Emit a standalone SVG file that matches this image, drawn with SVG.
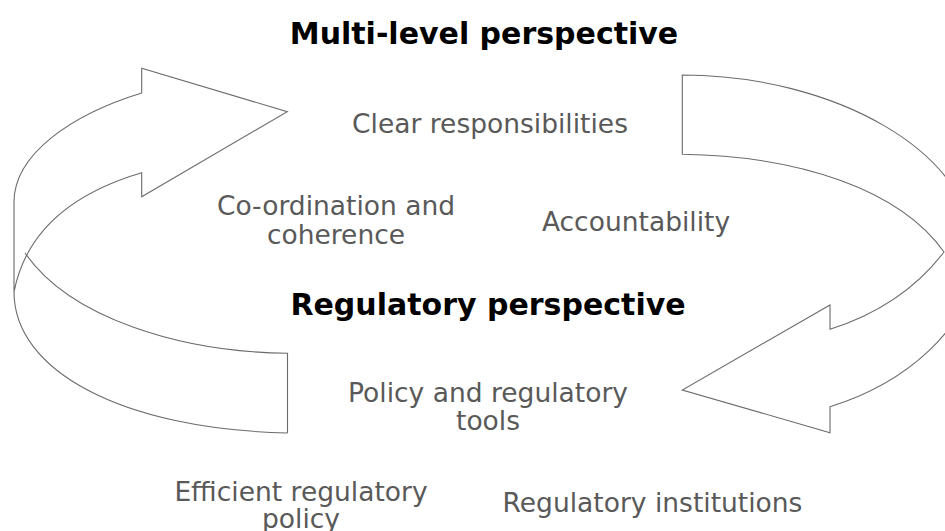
<svg xmlns="http://www.w3.org/2000/svg" width="945" height="531" viewBox="0 0 945 531">
<style>
.arr{fill:none;stroke:#6b6b6b;stroke-width:1.1;stroke-linejoin:miter}
.h{font-family:"DejaVu Sans",Verdana,sans-serif;font-weight:bold;font-size:30px;fill:#000;text-anchor:middle}
.t{font-family:"DejaVu Sans",Verdana,sans-serif;font-size:26.5px;fill:#595959;text-anchor:middle}
</style>
<rect width="945" height="531" fill="#fff"/>
<g id="connectors">
<path class="arr" d="M287.5,433 C120,429 14,370 14,292 L14,202 C14,155 70,115 141.7,93 L141.7,68.3 L287.3,111.7 L141.7,196.7 L141.7,172.7 C90,188 28,220 14,292"/>
<path class="arr" d="M287.5,433 L287.5,353.3 C180,352 70,318 25,253"/>
<path class="arr" d="M682.3,75 L682.3,154.3 C800,156 900,190 944,252 C915,290 875,315 830,329.3 L830,305 L682.3,390 L830,432.7 L830,406.7 C900,385 975,330 975,255 C975,150 830,75 682.3,75 Z"/>
</g>
<g id="multi-level"><text class="h" x="484" y="44">Multi-level perspective</text></g>
<g id="clear-responsibilities"><text class="t" x="490" y="133">Clear responsibilities</text></g>
<g id="coordination"><text class="t" x="336" y="215">Co-ordination and</text><text class="t" x="336" y="244">coherence</text></g>
<g id="accountability"><text class="t" x="636" y="231">Accountability</text></g>
<g id="regulatory"><text class="h" x="488" y="315">Regulatory perspective</text></g>
<g id="policy-tools"><text class="t" x="488" y="402">Policy and regulatory</text><text class="t" x="488" y="430">tools</text></g>
<g id="efficient"><text class="t" x="301" y="501">Efficient regulatory</text><text class="t" x="301" y="528">policy</text></g>
<g id="institutions"><text class="t" x="652.5" y="512">Regulatory institutions</text></g>
</svg>
